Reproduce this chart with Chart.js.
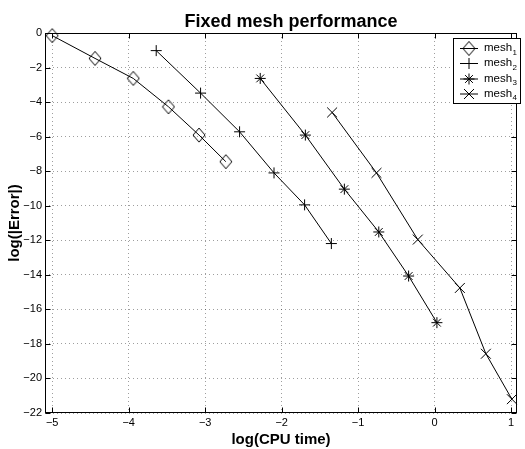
<!DOCTYPE html>
<html>
<head>
<meta charset="utf-8">
<script src="https://cdn.jsdelivr.net/npm/chart.js@4/dist/chart.umd.min.js"></script>
<style>
  html, body { margin: 0; padding: 0; background: #fff; overflow: hidden; }
  #wrap { width: 525px; height: 449px; }
</style>
</head>
<body>
<div id="wrap"><canvas id="myChart"></canvas></div>
<script>
// data
const seriesNums = ["1", "2", "3", "4"];
const mesh1X = [-5.00, -4.44, -3.94, -3.48, -3.08, -2.73];
const mesh1Y = [-0.15, -1.47, -2.63, -4.27, -5.91, -7.45];
const mesh2X = [-3.64, -3.06, -2.55, -2.10, -1.70, -1.35];
const mesh2Y = [-1.02, -3.48, -5.72, -8.10, -9.95, -12.19];
const mesh3X = [-2.28, -1.69, -1.18, -0.73, -0.34, 0.03];
const mesh3Y = [-2.63, -5.91, -9.04, -11.52, -14.07, -16.77];
const mesh4X = [-1.34, -0.76, -0.22, 0.33, 0.67, 1.01];
const mesh4Y = [-4.60, -8.10, -11.96, -14.76, -18.57, -21.20];
const xTicks = [-5, -4, -3, -2, -1, 0, 1];
const yTicks = [0, -2, -4, -6, -8, -10, -12, -14, -16, -18, -20, -22];

const FONT = "'Liberation Sans', Arial, Helvetica, sans-serif";
const minus = v => String(v).replace("-", "\u2212");
const toPts = (xs, ys) => xs.map((x, i) => ({ x: x, y: ys[i] }));

// hollow diamond, a bit taller than wide like matlab's
function diamond(w, h) {
  const c = document.createElement("canvas");
  c.width = w + 2; c.height = h + 2;
  const g = c.getContext("2d");
  g.strokeStyle = "#000";
  g.lineWidth = 1;
  g.beginPath();
  g.moveTo(c.width / 2, 1);
  g.lineTo(c.width - 1, c.height / 2);
  g.lineTo(c.width / 2, c.height - 1);
  g.lineTo(1, c.height / 2);
  g.closePath();
  g.stroke();
  return c;
}
const diamondImg = diamond(12, 14);

function mark(ctx, style, x, y) {
  ctx.beginPath();
  if (style === "diamond") {
    ctx.drawImage(diamondImg, x - diamondImg.width / 2, y - diamondImg.height / 2);
    return;
  }
  if (style === "cross" || style === "star") {
    ctx.moveTo(x - 5.5, y); ctx.lineTo(x + 5.5, y);
    ctx.moveTo(x, y - 5.5); ctx.lineTo(x, y + 5.5);
  }
  if (style === "crossRot" || style === "star") {
    const d = style === "star" ? 3.9 : 5;
    ctx.moveTo(x - d, y - d); ctx.lineTo(x + d, y + d);
    ctx.moveTo(x - d, y + d); ctx.lineTo(x + d, y - d);
  }
  ctx.stroke();
}

const styles = [diamondImg, "cross", "star", "crossRot"];
const legendStyles = ["diamond", "cross", "star", "crossRot"];

const framePlugin = {
  id: "frame",
  afterDraw(chart) {
    const ctx = chart.ctx;
    const a = chart.chartArea;
    const xs = chart.scales.x, ys = chart.scales.y;
    ctx.save();
    ctx.strokeStyle = "#000";
    ctx.lineWidth = 1;
    const L = Math.round(a.left) + 0.5, R = Math.round(a.right) - 0.5;
    const T = Math.round(a.top) + 0.5, B = Math.round(a.bottom) - 0.5;
    ctx.strokeRect(L, T, R - L, B - T);
    ctx.beginPath();
    xTicks.forEach(v => {
      const px = Math.round(xs.getPixelForValue(v)) + 0.5;
      ctx.moveTo(px, B); ctx.lineTo(px, B - 5);
      ctx.moveTo(px, T); ctx.lineTo(px, T + 5);
    });
    yTicks.forEach(v => {
      const py = Math.round(ys.getPixelForValue(v)) + 0.5;
      ctx.moveTo(L, py); ctx.lineTo(L + 5, py);
      ctx.moveTo(R, py); ctx.lineTo(R - 5, py);
    });
    ctx.stroke();

    // title
    ctx.fillStyle = "#000";
    ctx.font = "bold 18px " + FONT;
    ctx.textAlign = "center";
    ctx.textBaseline = "alphabetic";
    ctx.fillText("Fixed mesh performance", 291, 26.5);

    // legend box
    ctx.fillStyle = "#fff";
    ctx.fillRect(453.5, 38.5, 67, 65);
    ctx.strokeRect(453.5, 38.5, 67, 65);
    const rows = [48.5, 63.5, 79, 94];
    rows.forEach((ry, i) => {
      ctx.strokeStyle = "#000";
      ctx.beginPath();
      ctx.moveTo(460, ry); ctx.lineTo(478, ry);
      ctx.stroke();
      mark(ctx, legendStyles[i], 469, ry);
      ctx.fillStyle = "#000";
      ctx.textAlign = "left";
      ctx.font = "11.5px " + FONT;
      ctx.fillText("mesh", 484, ry + 2.5);
      const w = ctx.measureText("mesh").width;
      ctx.font = "8px " + FONT;
      ctx.fillText(seriesNums[i], 484 + w + 0.5, ry + 6);
    });
    ctx.restore();
  }
};

const series = [toPts(mesh1X, mesh1Y), toPts(mesh2X, mesh2Y), toPts(mesh3X, mesh3Y), toPts(mesh4X, mesh4Y)];

new Chart(document.getElementById("myChart").getContext("2d"), {
  type: "scatter",
  data: {
    datasets: series.map((pts, i) => ({
      label: "mesh" + seriesNums[i],
      data: pts,
      showLine: true,
      clip: false,
      borderColor: "#000",
      borderWidth: 1,
      pointStyle: styles[i],
      pointRadius: i === 3 ? 7 : 5.5,
      pointBorderColor: "#000",
      pointBorderWidth: 1,
      pointBackgroundColor: "rgba(0,0,0,0)"
    }))
  },
  options: {
    responsive: true,
    maintainAspectRatio: false,
    animation: false,
    layout: { padding: { top: 33, right: 0, left: 0, bottom: 0 } },
    plugins: { legend: { display: false }, tooltip: { enabled: false } },
    scales: {
      x: {
        type: "linear",
        min: -5.094,
        max: 1.077,
        afterBuildTicks: s => { s.ticks = xTicks.map(v => ({ value: v })); },
        afterFit: s => { s.height = 36; s.paddingLeft = 0; s.paddingRight = 0; },
        ticks: { font: { size: 11, family: FONT }, color: "#000", padding: 3, callback: minus },
        grid: { color: "rgba(0,0,0,0.38)", drawTicks: false },
        border: { display: false, dash: [1, 3] },
        title: { display: true, text: "log(CPU time)", color: "#000", font: { size: 15, weight: "bold", family: FONT }, padding: { top: 0, bottom: 0 } }
      },
      y: {
        type: "linear",
        min: -22,
        max: 0,
        afterBuildTicks: s => { s.ticks = yTicks.map(v => ({ value: v })); },
        afterFit: s => { s.width = 45; s.paddingTop = 0; s.paddingBottom = 0; },
        ticks: { font: { size: 11, family: FONT }, color: "#000", padding: 3, callback: minus },
        grid: { color: "rgba(0,0,0,0.38)", drawTicks: false },
        border: { display: false, dash: [1, 3] },
        title: { display: true, text: "log(|Error|)", color: "#000", font: { size: 15, weight: "bold", family: FONT }, padding: { top: 6, bottom: 0 } }
      }
    }
  },
  plugins: [framePlugin]
});
</script>
</body>
</html>
